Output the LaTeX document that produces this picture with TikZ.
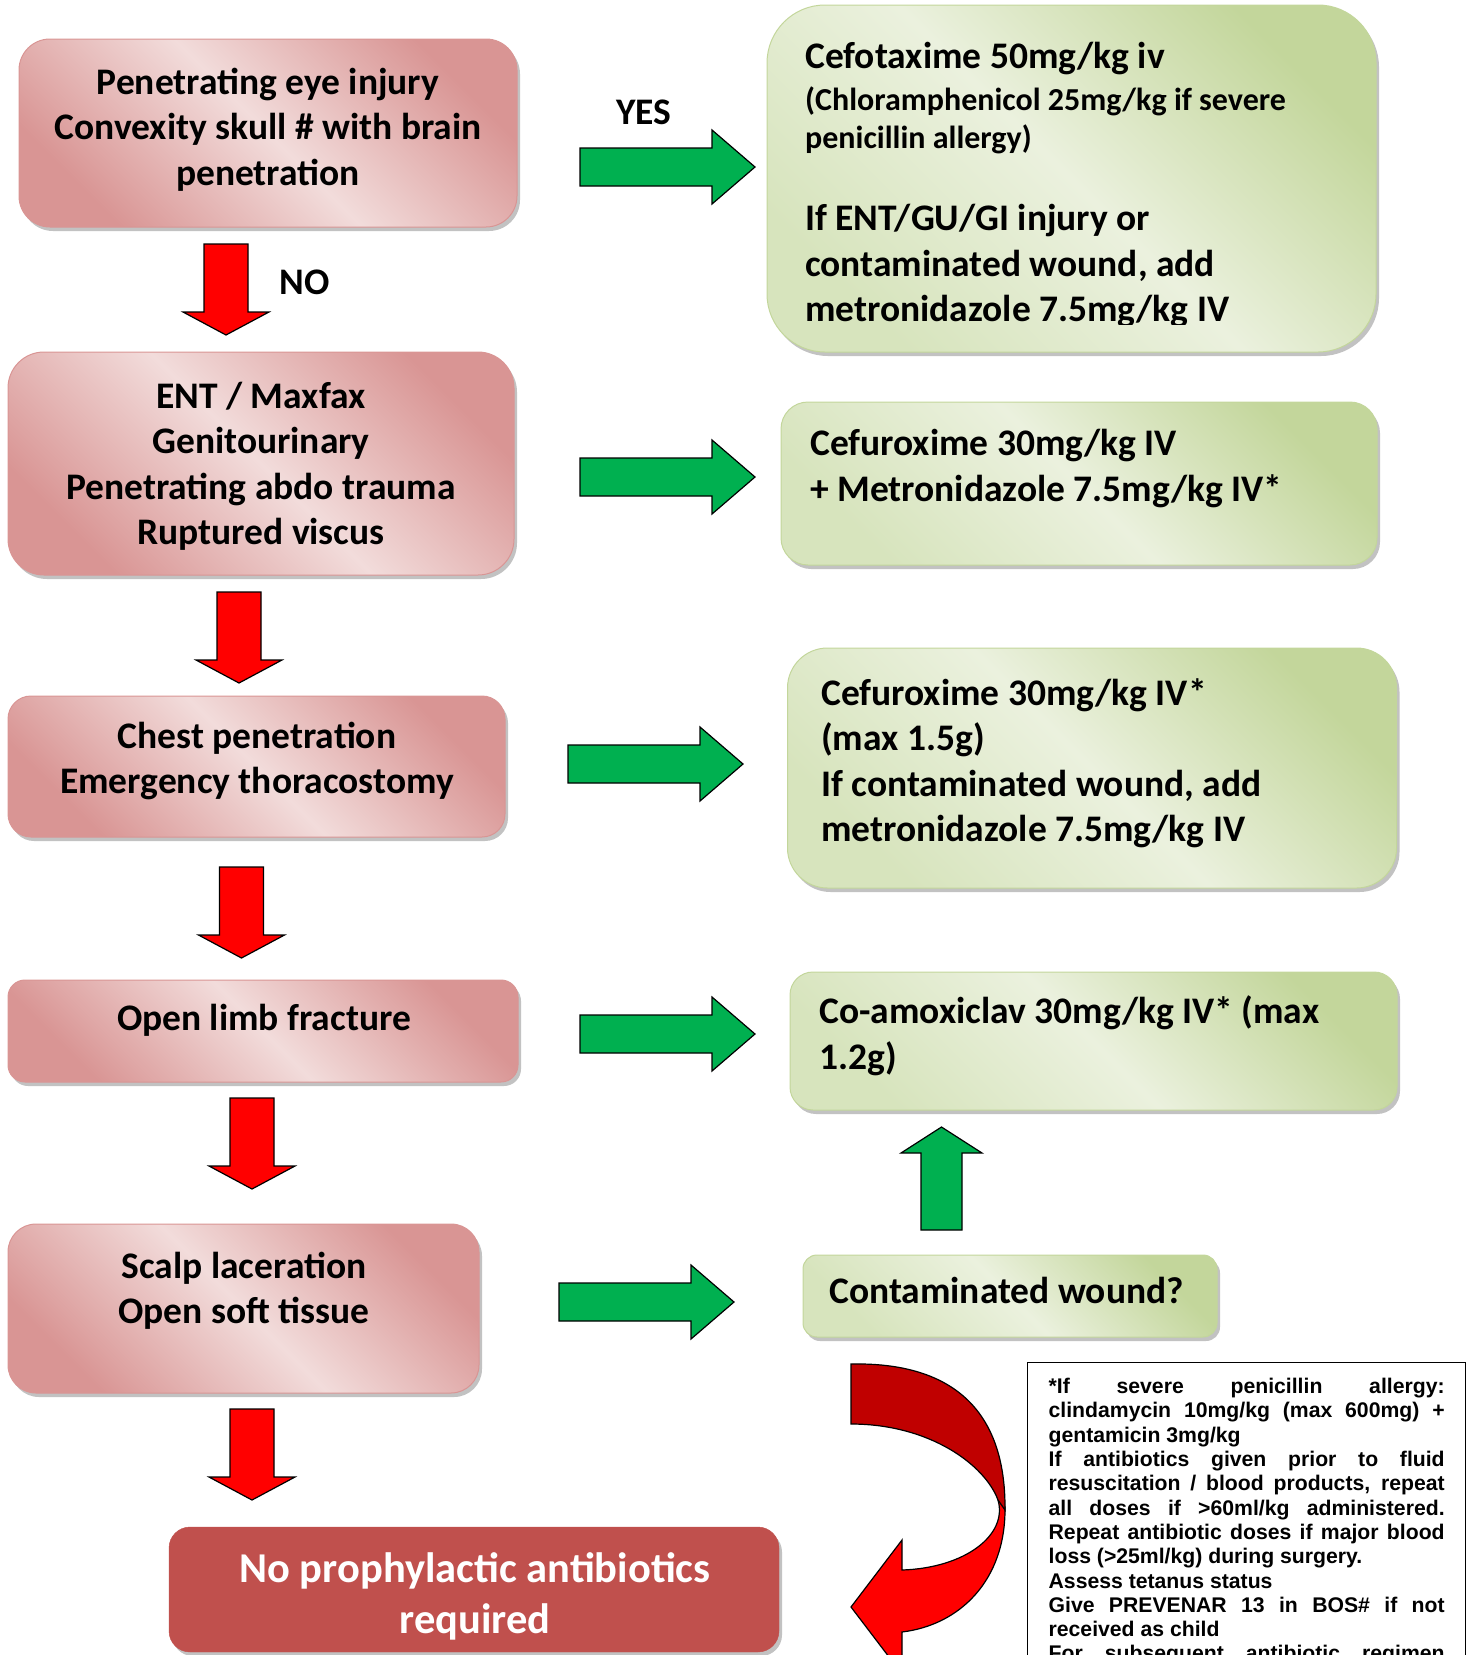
\documentclass[tikz,border=0pt]{standalone}
\usepackage{fontspec}
\setmainfont{Carlito}
\newfontfamily\notefont{Liberation Sans}
\usetikzlibrary{shadows}

\newcommand{\bodyfont}{\fontsize{37.5}{45.5}\selectfont\bfseries}
\newcommand{\smallbodyfont}{\fontsize{32}{38}\selectfont\bfseries}

\begin{document}
\begin{tikzpicture}[x=1pt, y=-1pt]

  % ---- sizing knobs ----
  \pgfmathsetmacro{\GAs}{19}   % green arrow shaft half width
  \pgfmathsetmacro{\GAh}{37}   % green arrow head half width
  \pgfmathsetmacro{\GAl}{132}  % green arrow shaft length
  \pgfmathsetmacro{\GAt}{43}   % green arrow head length
  \pgfmathsetmacro{\RAs}{22}   % red arrow shaft half width
  \pgfmathsetmacro{\RAh}{43}   % red arrow head half width
  \pgfmathsetmacro{\RAl}{68}   % red arrow shaft length
  \pgfmathsetmacro{\RAt}{23}   % red arrow head length

  \definecolor{PinkDark}{HTML}{D99594}
  \definecolor{PinkLight}{HTML}{F2DCDB}
  \definecolor{GreenDark}{HTML}{C3D69B}
  \definecolor{GreenMid}{HTML}{D7E4BD}
  \definecolor{GreenLight}{HTML}{EBF1DE}
  \definecolor{NoneRed}{HTML}{C0504D}
  \definecolor{GoGreen}{HTML}{00B050}
  \definecolor{StopRed}{HTML}{FF0000}
  \definecolor{CurlDark}{HTML}{C00000}

  \useasboundingbox (0,0) rectangle (1474,1655);

  \tikzset{
    pinkbox/.style={draw=PinkDark, line width=1pt, rounded corners=#1,
      drop shadow={shadow xshift=3pt, shadow yshift=-4pt, fill=black!40, opacity=.6},
      top color=PinkDark, bottom color=PinkDark, middle color=PinkLight, shading angle=-45},
    greenbox/.style={draw=GreenDark, line width=1pt, rounded corners=#1,
      drop shadow={shadow xshift=3pt, shadow yshift=-4pt, fill=black!40, opacity=.6},
      top color=GreenDark, bottom color=GreenMid, middle color=GreenLight, shading angle=-45},
    nonebox/.style={fill=NoneRed, draw=NoneRed, rounded corners=#1,
      drop shadow={shadow xshift=3pt, shadow yshift=-4pt, fill=black!40, opacity=.6}},
    boxtext/.style={inner sep=0pt, text width=500pt, align=flush center, anchor=base, font=\bodyfont},
    cuetext/.style={inner sep=0pt, text width=570pt, align=flush left, anchor=base west, font=\bodyfont},
    goarrow/.style={fill=GoGreen, draw=black, line width=1.2pt, line join=miter},
    stoparrow/.style={fill=StopRed, draw=black, line width=1.2pt, line join=miter},
    curlfront/.style={fill=StopRed, draw=black, line width=1.2pt},
    curlback/.style={fill=CurlDark, draw=black, line width=1.2pt},
  }

  % ---- left column: injury boxes ----
  \node[pinkbox=31pt, minimum width=498pt, minimum height=188pt] (eye) at (268,133) {};
  \node[pinkbox=36pt, minimum width=506pt, minimum height=223pt] (ent) at (261,463.5) {};
  \node[pinkbox=23pt, minimum width=497pt, minimum height=141pt] (chest) at (256.5,766.5) {};
  \node[pinkbox=17pt, minimum width=510pt, minimum height=102pt] (limb) at (263,1031) {};
  \node[pinkbox=28pt, minimum width=471pt, minimum height=169pt] (scalp) at (243.5,1308.5) {};
  \node[nonebox=21pt, minimum width=610pt, minimum height=125pt] (none) at (474,1589.5) {};

  \node[boxtext] (eyeText) at (268,94) {Penetrating eye injury\\Convexity skull \# with brain\\penetration};
  \node[boxtext] (entText) at (261,408) {ENT / Maxfax\\Genitourinary\\Penetrating abdo trauma\\Ruptured viscus};
  \node[boxtext] (chestText) at (257,748) {Chest penetration\\Emergency thoracostomy};
  \node[boxtext] (limbText) at (264,1030) {Open limb fracture};
  \node[boxtext] (scalpText) at (244,1278) {Scalp laceration\\Open soft tissue};
  \node[boxtext, text width=610pt, text=white, font=\fontsize{42.5}{51}\selectfont\bfseries]
    (noneText) at (475,1582) {No prophylactic antibiotics\\required};

  % ---- right column: antibiotic boxes ----
  \node[greenbox=58pt, minimum width=609pt, minimum height=347pt] (cefo) at (1071.5,178.5) {};
  \node[greenbox=27pt, minimum width=596pt, minimum height=163pt] (cefu) at (1079,483.5) {};
  \node[greenbox=40pt, minimum width=609pt, minimum height=240pt] (cefuMax) at (1092,768) {};
  \node[greenbox=23pt, minimum width=607pt, minimum height=138pt] (coamox) at (1093.5,1041) {};
  \node[greenbox=14pt, minimum width=414pt, minimum height=82pt] (contam) at (1010,1296) {};

  \node[cuetext] (cefoTitle) at (805,68.5) {Cefotaxime 50mg/kg iv};
  \node[cuetext, font=\smallbodyfont] (cefoAlt) at (805,110) {(Chloramphenicol 25mg/kg if severe\\penicillin allergy)};
  \begin{scope}
    \clip (767,5) rectangle (1376,324);
    \node[cuetext] (cefoAdd) at (805,230.5) {If ENT/GU/GI injury or\\contaminated wound, add\\metronidazole 7.5mg/kg IV};
  \end{scope}
  \node[cuetext] (cefuText) at (810,455.5) {Cefuroxime 30mg/kg IV\\+ Metronidazole 7.5mg/kg IV*};
  \node[cuetext] (cefuMaxText) at (821,705) {Cefuroxime 30mg/kg IV*\\(max 1.5g)\\If contaminated wound, add\\metronidazole 7.5mg/kg IV};
  \node[cuetext] (coamoxText) at (819,1023.5) {Co-amoxiclav 30mg/kg IV* (max\\1.2g)};
  \node[cuetext] (contamText) at (829,1303.5) {Contaminated wound?};

  % ---- YES / NO ----
  \node[font=\bodyfont, inner sep=0pt, anchor=base] (yes) at (644,124.5) {YES};
  \node[font=\bodyfont, inner sep=0pt, anchor=base] (no) at (305,294.5) {NO};

  % ---- green arrows (to the treatment) ----
  \coordinate (goEye) at (580,167);
  \coordinate (goEnt) at (580,477);
  \coordinate (goChest) at (568,764);
  \coordinate (goLimb) at (580,1034);
  \coordinate (goScalp) at (559,1302);
  \draw[goarrow] (goEye) ++(0,-\GAs) -- ++(\GAl,0) -- ++(0,\GAs-\GAh) -- ++(\GAt,\GAh) -- ++(-\GAt,\GAh) -- ++(0,\GAs-\GAh) -- ++(-\GAl,0) -- cycle;
  \draw[goarrow] (goEnt) ++(0,-\GAs) -- ++(\GAl,0) -- ++(0,\GAs-\GAh) -- ++(\GAt,\GAh) -- ++(-\GAt,\GAh) -- ++(0,\GAs-\GAh) -- ++(-\GAl,0) -- cycle;
  \draw[goarrow] (goChest) ++(0,-\GAs) -- ++(\GAl,0) -- ++(0,\GAs-\GAh) -- ++(\GAt,\GAh) -- ++(-\GAt,\GAh) -- ++(0,\GAs-\GAh) -- ++(-\GAl,0) -- cycle;
  \draw[goarrow] (goLimb) ++(0,-\GAs) -- ++(\GAl,0) -- ++(0,\GAs-\GAh) -- ++(\GAt,\GAh) -- ++(-\GAt,\GAh) -- ++(0,\GAs-\GAh) -- ++(-\GAl,0) -- cycle;
  \draw[goarrow] (goScalp) ++(0,-\GAs) -- ++(\GAl,0) -- ++(0,\GAs-\GAh) -- ++(\GAt,\GAh) -- ++(-\GAt,\GAh) -- ++(0,\GAs-\GAh) -- ++(-\GAl,0) -- cycle;

  % up from "Contaminated wound?"
  \coordinate (goUp) at (941.5,1230);
  \draw[goarrow] (goUp) ++(-20.5,0) -- ++(0,-77) -- ++(-20,0) -- ++(40.5,-26) -- ++(40.5,26) -- ++(-20,0) -- ++(0,77) -- cycle;

  % ---- red arrows (down the list) ----
  \coordinate (stopEye) at (226,244);
  \coordinate (stopEnt) at (239,592);
  \coordinate (stopChest) at (241.5,867);
  \coordinate (stopLimb) at (252,1098);
  \coordinate (stopScalp) at (252,1409);
  \draw[stoparrow] (stopEye) ++(-\RAs,0) -- ++(2*\RAs,0) -- ++(0,\RAl) -- ++(\RAh-\RAs,0) -- ++(-\RAh,\RAt) -- ++(-\RAh,-\RAt) -- ++(\RAh-\RAs,0) -- cycle;
  \draw[stoparrow] (stopEnt) ++(-\RAs,0) -- ++(2*\RAs,0) -- ++(0,\RAl) -- ++(\RAh-\RAs,0) -- ++(-\RAh,\RAt) -- ++(-\RAh,-\RAt) -- ++(\RAh-\RAs,0) -- cycle;
  \draw[stoparrow] (stopChest) ++(-\RAs,0) -- ++(2*\RAs,0) -- ++(0,\RAl) -- ++(\RAh-\RAs,0) -- ++(-\RAh,\RAt) -- ++(-\RAh,-\RAt) -- ++(\RAh-\RAs,0) -- cycle;
  \draw[stoparrow] (stopLimb) ++(-\RAs,0) -- ++(2*\RAs,0) -- ++(0,\RAl) -- ++(\RAh-\RAs,0) -- ++(-\RAh,\RAt) -- ++(-\RAh,-\RAt) -- ++(\RAh-\RAs,0) -- cycle;
  \draw[stoparrow] (stopScalp) ++(-\RAs,0) -- ++(2*\RAs,0) -- ++(0,\RAl) -- ++(\RAh-\RAs,0) -- ++(-\RAh,\RAt) -- ++(-\RAh,-\RAt) -- ++(\RAh-\RAs,0) -- cycle;

  % ---- curled arrow ----
  \draw[curlfront] (998,1500) .. controls (1008,1535) and (965,1568) .. (902,1570) -- (902,1540) -- (851,1607) -- (902,1674) -- (902,1632) .. controls (960,1625) and (1006,1580) .. (1005,1507) -- cycle;
  \draw[curlback] (851,1364) .. controls (950,1362) and (1006,1408) .. (1005,1510) -- (998,1500) .. controls (985,1465) and (930,1424) .. (851,1424) -- cycle;

  % ---- footnotes ----
  \node[draw=black, line width=1.3pt, anchor=north west, inner xsep=21pt, inner ysep=14pt,
    text width=396pt, align=flush left, font=\notefont\bfseries\fontsize{21.2}{24.3}\selectfont]
    (notes) at (1027,1362) {%
    \strut\makebox[396pt][s]{*If severe penicillin allergy:}\\
    \makebox[396pt][s]{clindamycin 10mg/kg (max 600mg) +}\\
    gentamicin 3mg/kg\\
    \makebox[396pt][s]{If antibiotics given prior to fluid}\\
    \makebox[396pt][s]{resuscitation / blood products, repeat}\\
    \makebox[396pt][s]{all doses if >60ml/kg administered.}\\
    \makebox[396pt][s]{Repeat antibiotic doses if major blood}\\
    loss (>25ml/kg) during surgery.\\
    Assess tetanus status\\
    \makebox[396pt][s]{Give PREVENAR 13 in BOS\# if not}\\
    received as child\\
    \makebox[396pt][s]{For subsequent antibiotic regimen}};

\end{tikzpicture}
\end{document}
